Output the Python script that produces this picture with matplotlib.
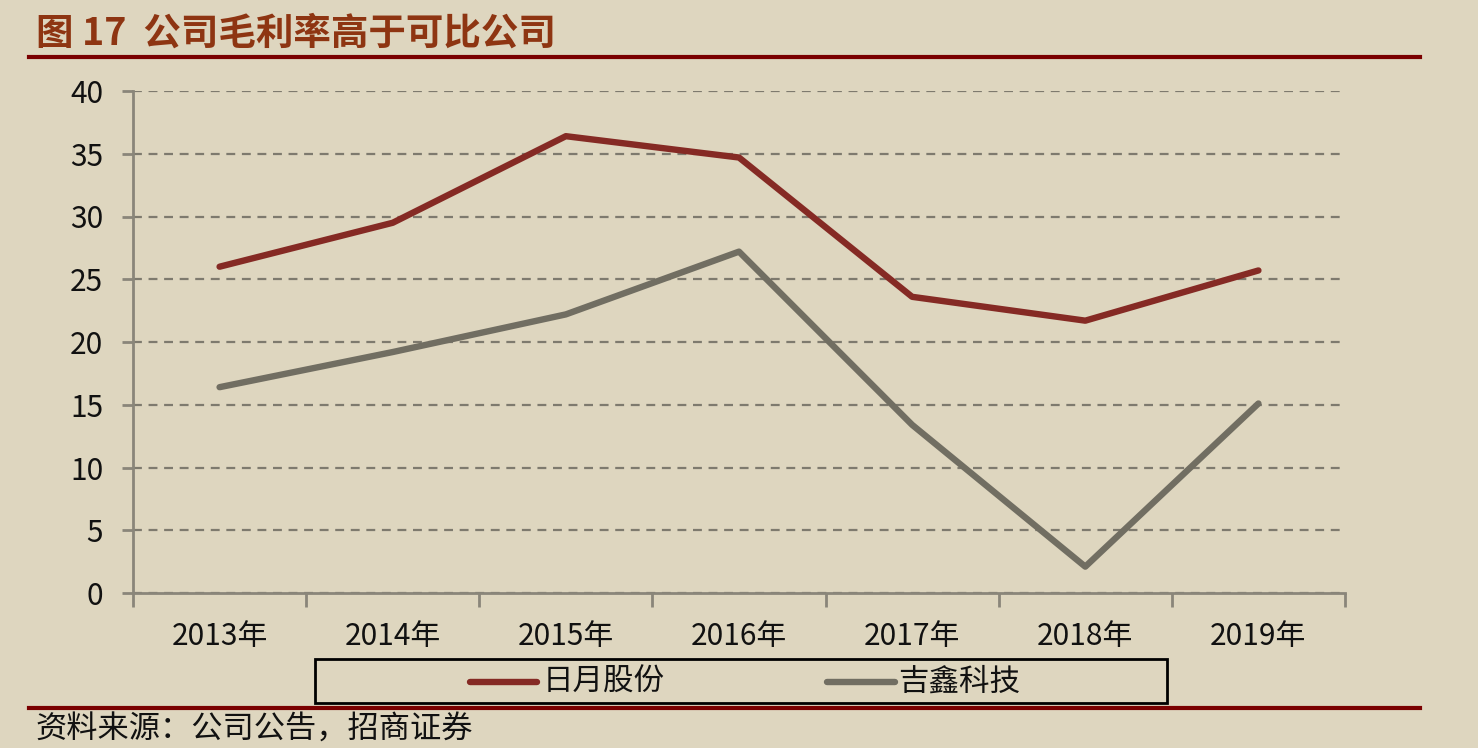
import matplotlib.pyplot as plt
from matplotlib.lines import Line2D
from matplotlib.patches import Rectangle

plt.rcParams['font.family'] = ['Noto Sans CJK SC', 'DejaVu Sans']

# 数据
years = ['2013年', '2014年', '2015年', '2016年', '2017年', '2018年', '2019年']
riyue = [26.0, 29.5, 36.4, 34.7, 23.6, 21.7, 25.7]
jixin = [16.4, 19.2, 22.2, 27.2, 13.4, 2.1, 15.1]
yticks = [0, 5, 10, 15, 20, 25, 30, 35, 40]

bg = '#DED6BF'
red = '#852A24'
gray = '#716E62'
axis_c = '#8A867A'
W, H = 1478, 748

fig = plt.figure(figsize=(W / 100, H / 100), dpi=100, facecolor=bg)
ax = fig.add_axes([133 / W, 1 - 593 / H, (1345 - 133) / W, (593 - 91) / H])
ax.set_facecolor(bg)

x = list(range(len(years)))
ax.plot(x, riyue, color=red, lw=4.6, solid_capstyle='round', solid_joinstyle='round', zorder=3)
ax.plot(x, jixin, color=gray, lw=4.6, solid_capstyle='round', solid_joinstyle='round', zorder=3)

ax.set_xlim(-0.5, 6.5)
ax.set_ylim(0, 40)
ax.set_yticks(yticks)
ax.set_yticklabels([str(v) for v in yticks], fontsize=21.5, color='#111111')
ax.yaxis.grid(True, linestyle=(0, (4, 3)), color='#7E7A6E', lw=1.6)
ax.set_axisbelow(True)

# x轴：刻度在分类边界，标签居中
ax.set_xticks([i - 0.5 for i in range(len(years) + 1)])
ax.set_xticklabels([])
ax.set_xticks(x, minor=True)
ax.set_xticklabels(years, minor=True, fontsize=21.5, color='#111111')
ax.tick_params(axis='x', which='major', length=10, width=2, color=axis_c, direction='out')
ax.tick_params(axis='x', which='minor', length=0, pad=20)
ax.tick_params(axis='y', length=8, width=2, color=axis_c, direction='out', pad=13.5)

for s in ['top', 'right']:
    ax.spines[s].set_visible(False)
for s in ['left', 'bottom']:
    ax.spines[s].set_color(axis_c)
    ax.spines[s].set_linewidth(2)

# 标题与分隔线
fig.text(36 / W, 1 - 33 / H, '图 17  公司毛利率高于可比公司', fontsize=27, fontweight='bold',
         color='#8E3512', va='center', ha='left')
fig.add_artist(Line2D([29 / W, 1420 / W], [1 - 57 / H, 1 - 57 / H], color='#7A0000', lw=3))
fig.add_artist(Line2D([29 / W, 1420 / W], [1 - 708 / H, 1 - 708 / H], color='#7A0000', lw=3))
fig.text(35 / W, 1 - 730 / H, '资料来源：公司公告，招商证券', fontsize=22.5, color='#111111',
         va='center', ha='left')

# 图例框
fig.add_artist(Rectangle((315 / W, 1 - 703 / H), (1167 - 315) / W, (703 - 659) / H,
                         transform=fig.transFigure, fill=False, ec='black', lw=2))
ly = 1 - 682 / H
fig.add_artist(Line2D([470 / W, 537 / W], [ly, ly], color=red, lw=4.6, solid_capstyle='round'))
fig.text(543 / W, ly, '日月股份', fontsize=22, color='#111111', va='center', ha='left')
fig.add_artist(Line2D([827 / W, 895 / W], [ly, ly], color=gray, lw=4.6, solid_capstyle='round'))
fig.text(898 / W, ly, '吉鑫科技', fontsize=22, color='#111111', va='center', ha='left')

fig.savefig('out.png', dpi=100, facecolor=bg)
